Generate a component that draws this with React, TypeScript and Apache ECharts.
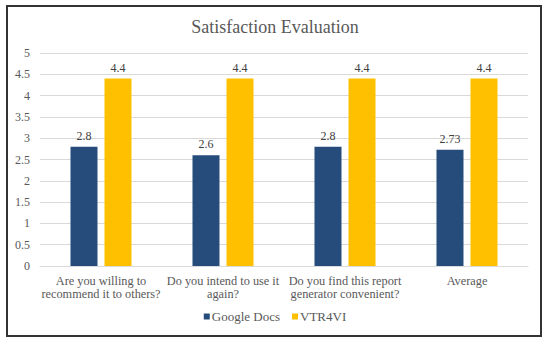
import React, { useEffect, useRef } from "react";
import * as echarts from "echarts";

const categories = [
  "Are you willing to\nrecommend it to others?",
  "Do you intend to use it\nagain?",
  "Do you find this report\ngenerator convenient?",
  "Average",
];
const googleDocs = [2.8, 2.6, 2.8, 2.73];
const vtr4vi = [4.4, 4.4, 4.4, 4.4];
const seriesNames = ["Google Docs", "VTR4VI"];

const FONT = "'Liberation Serif', 'Times New Roman', serif";

export default function App() {
  const ref = useRef<HTMLDivElement>(null);
  useEffect(() => {
    if (!ref.current) return;
    const chart = echarts.init(ref.current, null, { renderer: "svg" });
    const labelStyle = {
      show: true,
      position: "top" as const,
      color: "#404040",
      fontFamily: FONT,
      fontSize: 12,
      distance: 5,
    };
    chart.setOption({
      animation: false,
      backgroundColor: "#ffffff",
      textStyle: { fontFamily: FONT },
      title: {
        text: "Satisfaction Evaluation",
        left: "center",
        top: 13,
        textStyle: { fontFamily: FONT, fontSize: 18, fontWeight: "normal", color: "#595959" },
      },
      graphic: [
        {
          type: "rect",
          shape: { x: 7, y: 6, width: 534, height: 330 },
          style: { fill: "none", stroke: "#333333", lineWidth: 2 },
          silent: true,
          z: 100,
        },
      ],
      legend: {
        data: seriesNames,
        top: 305,
        left: "center",
        itemWidth: 6,
        itemHeight: 6,
        itemGap: 12,
        icon: "rect",
        textStyle: { fontFamily: FONT, fontSize: 13, color: "#595959", padding: [0, 0, 0, -3] },
      },
      grid: { left: 40, right: 22, top: 53, bottom: 80, containLabel: false },
      xAxis: {
        type: "category",
        data: categories,
        axisTick: { show: false },
        axisLine: { lineStyle: { color: "#d9d9d9" } },
        axisLabel: {
          interval: 0,
          color: "#595959",
          fontFamily: FONT,
          fontSize: 12.3,
          lineHeight: 13,
          margin: 8,
        },
      },
      yAxis: {
        type: "value",
        min: 0,
        max: 5,
        interval: 0.5,
        axisLabel: { color: "#595959", fontFamily: FONT, fontSize: 12, margin: 10 },
        splitLine: { lineStyle: { color: "#d9d9d9" } },
        axisLine: { show: false },
        axisTick: { show: false },
      },
      series: [
        {
          name: seriesNames[0],
          type: "bar",
          data: googleDocs,
          barWidth: 27,
          barGap: "26%",
          itemStyle: { color: "#264C7C" },
          label: labelStyle,
        },
        {
          name: seriesNames[1],
          type: "bar",
          data: vtr4vi,
          barWidth: 27,
          barGap: "26%",
          itemStyle: { color: "#FFC000" },
          label: labelStyle,
        },
      ],
    });
    return () => chart.dispose();
  }, []);
  return (
    <div
      ref={ref}
      style={{ position: "fixed", left: 0, top: 0, width: 550, height: 346 }}
    />
  );
}
